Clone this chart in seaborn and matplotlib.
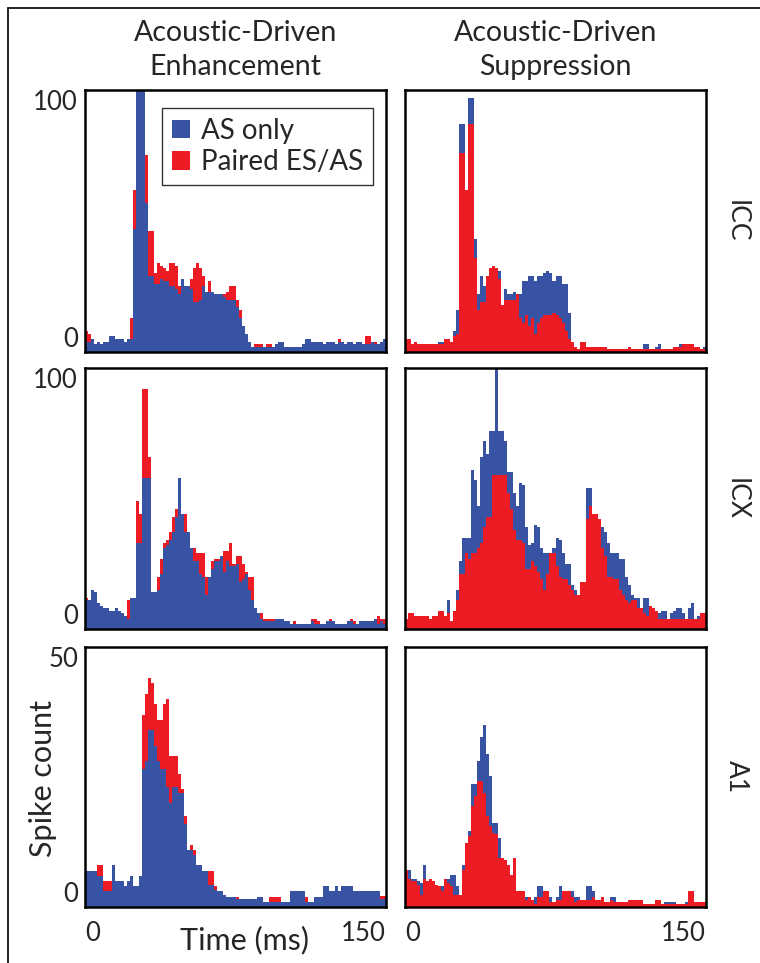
import numpy as np
import pandas as pd
import matplotlib
matplotlib.use("Agg")
import matplotlib.pyplot as plt
from matplotlib.patches import Patch
from matplotlib.lines import Line2D
import seaborn as sns

# PSTH data: 100 bins of 1.5 ms over 0-150 ms
n_bins = 100
centers = np.arange(n_bins) * 1.5 + 0.75

# ICC, acoustic-driven enhancement
icc_enh_as = [4, 4, 5, 3, 4, 3, 4, 4, 6, 6, 5, 5, 5, 4, 5, 5,
              47, 104, 104, 104, 57, 29, 29, 26, 26, 28, 27, 27, 25, 25,
              24, 22, 28, 25, 25, 24, 19, 19, 20, 25, 23, 23, 23, 22, 22,
              22, 21, 20, 20, 20, 17, 13, 10, 7, 4,
              2, 2, 2, 2, 2, 2, 2, 2, 3, 4, 4, 2, 2, 2, 2, 2, 2, 3, 5, 5,
              4, 4, 4, 4, 3, 4, 4, 4, 3, 4, 4, 3, 4, 4, 3, 4, 4, 3,
              3, 3, 4, 3, 3, 4, 5]
icc_enh_pair = [8, 7, 5, 3, 4, 3, 4, 4, 6, 6, 5, 5, 5, 4, 5, 13,
                62, 100, 100, 90, 75, 46, 46, 30, 34, 33, 32, 31, 34, 34,
                33, 25, 28, 25, 24, 28, 32, 34, 32, 29, 22, 27, 22, 21, 22,
                21, 22, 23, 25, 25, 20, 16, 9, 6, 4,
                2, 3, 3, 3, 2, 3, 3, 2, 3, 3, 3, 2, 2, 2, 2, 2, 2, 2, 3, 3,
                3, 3, 3, 3, 3, 4, 3, 4, 3, 5, 3, 3, 3, 3, 3, 3, 3, 3,
                6, 6, 3, 4, 3, 4, 3]

# ICC, acoustic-driven suppression
icc_sup_as = [5, 5, 3, 4, 3, 3, 3, 3, 3, 3, 3, 4, 4, 5, 5, 4,
              8, 16, 87, 87, 62, 97, 97, 43, 22, 29, 25, 29, 32, 33,
              32, 31, 18, 24, 22, 22, 23, 22, 22, 27, 27, 29, 29, 27, 29,
              29, 30, 31, 30, 27, 29, 29, 26, 26, 15, 4, 2, 1, 4, 4, 2,
              2, 2, 2, 2, 2, 2, 1, 1, 1, 1,
              1, 1, 1, 2, 1, 1, 1, 1, 3, 3,
              1, 1, 2, 3, 1, 1, 1, 1, 2, 2,
              3, 3, 3, 3, 3, 2, 2, 1, 2]
icc_sup_pair = [5, 5, 3, 4, 3, 3, 3, 3, 3, 3, 3, 3, 3, 5, 5, 4,
                6, 7, 76, 76, 62, 87, 87, 36, 16, 19, 19, 29, 32, 33,
                32, 28, 18, 20, 20, 20, 20, 22, 13, 11, 14, 10, 13, 7, 11,
                13, 14, 14, 14, 15, 14, 13, 11, 8, 5, 4, 2, 1, 4, 4, 2,
                2, 2, 2, 2, 2, 2, 1, 1, 1, 1,
                1, 1, 1, 2, 1, 1, 1, 1, 1, 1,
                1, 1, 1, 1, 1, 1, 1, 1, 2, 2,
                2, 3, 3, 3, 3, 2, 2, 1, 1]

# ICX, acoustic-driven enhancement
icx_enh_as = [11, 11, 15, 14, 10, 9, 8, 8, 7, 7, 8, 7, 6, 5, 4, 12, 12,
              33, 33, 58, 58, 58, 14, 14, 15, 21, 31, 32, 34, 37, 43, 58,
              44, 37, 37, 31, 26, 26, 21, 20, 13, 20, 23, 26, 26, 28, 22,
              26, 24, 24, 25, 18, 19, 21, 15, 11, 8, 6, 4, 3,
              3, 3, 3, 4, 4, 4, 3, 3, 2, 2, 2, 2, 2, 2, 2, 3, 2, 2, 2, 2,
              3, 3, 3, 2, 2, 2, 2, 3, 3, 2, 2, 3, 3, 3, 3, 3, 4, 2, 3, 2]
icx_enh_pair = [12, 11, 15, 14, 10, 9, 8, 8, 7, 7, 8, 7, 6, 5, 11, 12, 12,
                49, 44, 92, 92, 66, 14, 14, 20, 27, 33, 34, 37, 43, 46, 55,
                44, 44, 37, 31, 31, 29, 29, 29, 20, 20, 26, 27, 27, 28, 30,
                30, 33, 25, 28, 28, 25, 22, 20, 20, 8, 6, 6, 4,
                4, 4, 4, 4, 4, 4, 3, 3, 2, 3, 2, 2, 2, 2, 2, 4, 4, 3, 2, 2,
                3, 4, 3, 2, 2, 2, 2, 3, 4, 3, 2, 3, 3, 3, 3, 3, 4, 5, 4, 4]

# ICX, acoustic-driven suppression
icx_sup_as = [4, 6, 6, 5, 5, 5, 5, 5, 4, 5, 5, 7, 7, 5, 11, 3, 7,
              15, 26, 35, 35, 35, 61, 57, 47, 66, 72, 67, 76, 76, 100, 76,
              76, 72, 60, 60, 52, 47, 56, 55, 39, 32, 33, 40, 39, 31, 29,
              29, 29, 31, 35, 34, 29, 25, 25, 17, 15, 13, 18, 18,
              54, 54, 44, 44, 42, 39, 37, 33, 29, 29, 29, 27, 27, 20, 17,
              13, 12, 12, 8, 12, 12, 9, 8, 7, 6, 7, 7, 4, 6, 7, 8, 8, 6,
              4, 8, 10, 4, 5, 6, 6]
icx_sup_pair = [4, 6, 6, 5, 5, 5, 5, 5, 4, 5, 5, 7, 7, 5, 6, 3, 7,
                11, 21, 21, 29, 27, 29, 29, 31, 33, 39, 43, 43, 59, 59, 59,
                59, 59, 52, 46, 38, 34, 34, 33, 23, 23, 26, 24, 22, 19, 15,
                21, 29, 29, 24, 20, 19, 19, 17, 15, 13, 13, 18, 18,
                42, 47, 44, 44, 42, 31, 28, 20, 20, 19, 19, 15, 13, 11, 10,
                11, 11, 8, 8, 6, 5, 9, 8, 7, 4, 4, 4, 4, 4, 4, 4, 4, 4,
                4, 4, 4, 4, 4, 6, 6]

# A1, acoustic-driven enhancement
a1_enh_as = [7, 7, 7, 7, 6, 6, 3, 3, 3, 8, 5, 5, 5, 4, 5, 6, 4, 4, 6,
             26.5, 28, 34, 34, 31, 28, 26.5, 26.5, 23, 20, 23, 23, 22, 22,
             16, 11, 11, 10, 8, 8, 7, 7, 4.3, 4.3, 3.3, 3, 3, 2.4,
             2, 2, 2, 1.5, 1.5, 1.5, 1.5, 1.5, 1.5, 1.5, 2, 2,
             1, 1, 1, 1, 1, 1, 1, 1, 1, 3, 3, 3, 3, 3, 1, 1, 1, 2, 2, 2,
             4, 4, 3, 3, 4, 3, 4, 4, 4, 4, 3, 3, 3, 3, 3, 3, 3, 3, 3,
             1.5, 1.5]
a1_enh_pair = [7, 7, 7, 7, 8, 8, 5, 5, 5, 8, 5, 5, 5, 4, 5, 6, 4, 4, 6,
               37, 41, 44, 43, 39, 36, 36, 39, 40, 29, 29, 29, 25.5, 22.7,
               17.5, 11, 12, 11, 8, 8, 7, 7, 7, 7, 4, 3, 3, 2.4,
               2, 2, 2, 2, 1.5, 1.5, 1.5, 1.5, 1.5, 1.5, 2, 2,
               1, 1, 2, 2, 2, 2, 1, 1, 1, 3, 3, 3, 3, 3, 2, 1, 1, 2, 2, 2,
               3, 3, 3, 3, 3, 3, 3, 3, 3, 3, 3, 3, 3, 3, 3, 3, 3, 3, 3,
               2.2, 2.2]

# A1, acoustic-driven suppression
a1_sup_as = [7.2, 7.2, 5.3, 5.3, 5, 4.6, 8, 5, 4.3, 5, 4.3, 4, 4, 5.3, 5.3,
             6.2, 6.2, 4, 2.4, 8, 12.4, 14.6, 23.6, 23.6, 28, 32.6, 35, 29.4,
             25.2, 16.2, 16.2, 13.3, 9.5, 9, 8, 6.2, 9.5, 3, 3, 3,
             2, 2, 1.4, 2, 4, 4, 3, 3, 2, 1, 2, 4, 3, 3, 3, 3, 2, 2, 1.4, 1.4,
             4, 4, 3, 1.4, 1.4, 2, 1, 1, 2, 2,
             1, 1, 1, 1, 1.4, 1.4, 1.4, 1.4, 1.4, 0.5, 0.5, 0.5, 0.5, 1.4, 1.4,
             0.5, 1, 1, 1, 1, 0.5, 0.5, 0.5, 1, 3, 3, 1, 1, 1, 1]
a1_sup_pair = [7.2, 5.3, 5, 5, 4.3, 2.4, 5.3, 5, 5.3, 5, 4.3, 4, 3, 5.3, 4.6,
               4, 2.4, 2.4, 2.4, 7.2, 12.4, 13.6, 19.4, 21.4, 24.3, 24.3, 22,
               17.5, 15.6, 14.3, 14, 9.5, 9.5, 9, 8, 6.2, 9.5, 3, 3, 3,
               1.4, 2, 1.4, 0.5, 2, 2, 3, 3, 1, 1, 1.4, 1.4, 3, 3, 3, 2, 1,
               1.4, 1.4, 1.4, 1.4, 1.4, 2, 1.4, 1.4, 2, 1, 1, 1.4, 1,
               1, 1, 1, 1, 1.4, 1.4, 1.4, 1.4, 1.4, 0.5, 0.5, 0.5, 0.5, 1.4, 1.4,
               0.5, 0.5, 0.5, 0.5, 0.5, 0.5, 0.5, 0.5, 0.5, 3, 3, 1, 1, 1, 1]

col_titles = ["Acoustic-Driven\nEnhancement", "Acoustic-Driven\nSuppression"]
row_labels = ["ICC", "ICX", "A1"]
row_ymax = [100, 100, 50]
legend_labels = ["AS only", "Paired ES/AS"]

blue = "#3953a4"
red = "#ed1c24"

sns.set_style("white")
plt.rcParams["font.family"] = ["Lato", "DejaVu Sans"]

fig = plt.figure(figsize=(7.6, 9.63), dpi=100)

panels = [[(icc_enh_as, icc_enh_pair), (icc_sup_as, icc_sup_pair)],
          [(icx_enh_as, icx_enh_pair), (icx_sup_as, icx_sup_pair)],
          [(a1_enh_as, a1_enh_pair), (a1_sup_as, a1_sup_pair)]]

lefts = [85 / 760, 405 / 760]
width = 301 / 760
rows_px = [(90, 352), (368, 629), (647, 907)]

axes = []
for r in range(3):
    top, bot = rows_px[r]
    for c in range(2):
        ax = fig.add_axes([lefts[c], 1 - bot / 963, width, (bot - top) / 963])
        as_vals, pair_vals = panels[r][c]
        # enhancement: red behind blue; suppression: blue behind red
        if c == 0:
            order = [(pair_vals, red), (as_vals, blue)]
        else:
            order = [(as_vals, blue), (pair_vals, red)]
        for vals, col in order:
            df = pd.DataFrame({"t": centers, "n": vals})
            sns.histplot(data=df, x="t", weights="n", bins=n_bins,
                         binrange=(0, 150), element="step", fill=True,
                         color=col, alpha=1, linewidth=0, ax=ax)
        ax.set_xlim(0, 150)
        ax.set_ylim(0, row_ymax[r])
        ax.set(xlabel="", ylabel="")
        for s in ax.spines.values():
            s.set_visible(True)
            s.set_color("black")
            s.set_linewidth(1.8)
        ax.tick_params(length=0)
        if c == 0:
            ax.set_yticks([0, row_ymax[r]])
            ax.set_yticklabels(["0", str(row_ymax[r])], fontsize=18.5)
            ax.tick_params(axis="y", pad=5)
            labs = ax.get_yticklabels()
            labs[0].set_va("bottom")
            labs[1].set_va("top")
        else:
            ax.set_yticks([])
        if r == 2:
            ax.set_xticks([0, 150])
            ax.set_xticklabels(["0", "150"], fontsize=18.5)
            ax.tick_params(axis="x", pad=10)
            labs = ax.get_xticklabels()
            labs[0].set_ha("left")
            labs[1].set_ha("right")
        else:
            ax.set_xticks([])
        axes.append(ax)

# legend in the top-left panel
handles = [Patch(facecolor=blue, edgecolor="none"),
           Patch(facecolor=red, edgecolor="none")]
leg = axes[0].legend(handles, legend_labels, loc="upper right", fontsize=20,
                     frameon=True, fancybox=False, edgecolor="black",
                     handlelength=0.65, handleheight=0.65, handletextpad=0.4,
                     borderpad=0.35, labelspacing=0.2, borderaxespad=0,
                     bbox_to_anchor=(0.957, 0.931))
leg.get_frame().set_linewidth(1.0)

fig.text(43 / 760, 1 - 778 / 963, "Spike count", rotation=90,
         ha="center", va="center", fontsize=22)

for c in range(2):
    cx = (lefts[c] + width / 2)
    fig.text(cx, 1 - 50 / 963, col_titles[c], ha="center", va="center",
             fontsize=20.5, linespacing=1.35)

for r in range(3):
    top, bot = rows_px[r]
    fig.text(736 / 760, 1 - (top + bot) / 2 / 963, row_labels[r],
             rotation=270, ha="center", va="center", fontsize=19)

fig.text(245 / 760, 1 - 940 / 963, "Time (ms)", ha="center", va="center",
         fontsize=22)

# outer frame (left and top edges)
fig.add_artist(Line2D([8 / 760, 8 / 760], [0, 1 - 8 / 963],
                      transform=fig.transFigure, color="black", lw=1.2))
fig.add_artist(Line2D([8 / 760, 1], [1 - 8 / 963, 1 - 8 / 963],
                      transform=fig.transFigure, color="black", lw=1.2))

fig.savefig("out.png", dpi=100)
